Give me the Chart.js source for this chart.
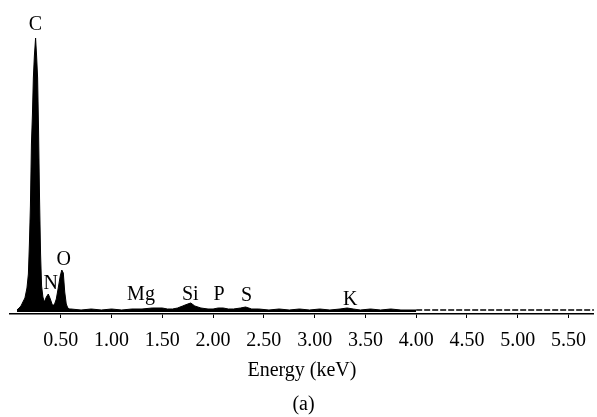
<!DOCTYPE html>
<html>
<head>
<meta charset="utf-8">
<style>
  html, body { margin: 0; padding: 0; background: #fff; }
  #wrap { width: 597px; height: 417px; }
</style>
<script src="https://cdn.jsdelivr.net/npm/chart.js@4.4.0/dist/chart.umd.min.js"></script>
</head>
<body>
<div id="wrap"><canvas id="chart"></canvas></div>
<script>
// EDS spectrum, energy in keV and counts (arbitrary units)
const energy = [
  0.069, 0.088, 0.108, 0.127, 0.147, 0.167, 0.181, 0.191, 0.201, 0.211,
  0.221, 0.230, 0.240, 0.252, 0.262, 0.272, 0.281, 0.291, 0.301, 0.311,
  0.324, 0.338, 0.358, 0.377, 0.397, 0.417, 0.436, 0.456, 0.475, 0.495,
  0.510, 0.525, 0.539, 0.554, 0.569, 0.588,
  0.60, 0.70, 0.80, 0.90, 1.00, 1.10, 1.20, 1.30, 1.40, 1.50,
  1.55, 1.60, 1.65, 1.70, 1.75, 1.78, 1.82, 1.88, 1.95, 2.00,
  2.05, 2.10, 2.15, 2.20, 2.27, 2.32, 2.38, 2.45, 2.55, 2.65,
  2.75, 2.85, 2.95, 3.05, 3.15, 3.25, 3.32, 3.38, 3.45, 3.55,
  3.65, 3.75, 3.85, 4.00
];
const counts = [
  4, 6, 8, 12, 16, 26, 40, 70, 108, 170,
  200, 236, 258, 276, 258, 236, 185, 115, 60, 28,
  17, 12, 17, 20, 15, 9, 9, 15, 26, 38,
  44, 41, 22, 10, 6, 5,
  5, 4, 5, 4, 5, 4, 5, 5, 6, 6,
  5, 5, 6, 8, 10, 11, 8, 6, 5, 5,
  6, 6, 5, 5, 6, 7, 5, 5, 4, 5,
  4, 5, 4, 5, 4, 5, 6, 5, 4, 5,
  4, 5, 4, 4
];

// noisy tail drawn as a broken line
const tailEnergy = [4.00, 4.50, 5.00, 5.50, 5.75];
const tailCounts = [4, 4, 4, 4, 4];

// element labels, anchored at (keV, counts)
const peakNames = ['C', 'N', 'O', 'Mg', 'Si', 'P', 'S', 'K'];
const peakLabelE = [0.25, 0.40, 0.53, 1.29, 1.775, 2.06, 2.33, 3.35];
const peakLabelV = [284, 25, 49, 14, 14, 14, 13, 9];

const tickValues = [0.5, 1.0, 1.5, 2.0, 2.5, 3.0, 3.5, 4.0, 4.5, 5.0, 5.5];
const tickLabels = ['0.50', '1.00', '1.50', '2.00', '2.50', '3.00', '3.50', '4.00', '4.50', '5.00', '5.50'];

const serif = '"Liberation Serif", "Times New Roman", serif';

const peakLabels = {
  id: 'peakLabels',
  afterDatasetsDraw(chart) {
    const ctx = chart.ctx;
    const xs = chart.scales.x, ys = chart.scales.y;
    ctx.save();
    ctx.fillStyle = '#000';
    ctx.font = '20px ' + serif;
    ctx.textAlign = 'center';
    ctx.textBaseline = 'alphabetic';
    peakNames.forEach((name, i) => {
      ctx.fillText(name, xs.getPixelForValue(peakLabelE[i]), ys.getPixelForValue(peakLabelV[i]));
    });
    ctx.restore();
  }
};

new Chart(document.getElementById('chart'), {
  type: 'line',
  data: {
    datasets: [
      {
        data: energy.map((e, i) => ({ x: e, y: counts[i] })),
        borderColor: '#000',
        backgroundColor: '#000',
        borderWidth: 1,
        pointRadius: 0,
        tension: 0,
        fill: { value: 2 }
      },
      {
        data: tailEnergy.map((e, i) => ({ x: e, y: tailCounts[i] })),
        borderColor: '#000',
        borderWidth: 1.5,
        borderDash: [6, 2],
        pointRadius: 0,
        fill: false
      }
    ]
  },
  options: {
    responsive: true,
    maintainAspectRatio: false,
    animation: false,
    layout: { padding: { left: 10, right: 0, top: 14, bottom: 0 } },
    plugins: {
      legend: { display: false },
      tooltip: { enabled: false },
      title: {
        display: true,
        text: '(a)',
        position: 'bottom',
        color: '#000',
        font: { family: serif, size: 20, weight: 'normal' },
        padding: { top: 10, bottom: 0 }
      }
    },
    scales: {
      x: {
        type: 'linear',
        min: 0,
        max: 5.75,
        afterBuildTicks: scale => { scale.ticks = tickValues.map(v => ({ value: v })); },
        afterFit: scale => { scale.height = 69; },
        ticks: {
          color: '#000',
          font: { family: serif, size: 20 },
          padding: 11,
          maxRotation: 0,
          autoSkip: false,
          callback: (v, i) => tickLabels[i]
        },
        grid: { drawOnChartArea: false, drawTicks: true, tickLength: 4, tickColor: '#000', tickWidth: 1 },
        border: { display: true, color: '#000', width: 1.5 },
        title: {
          display: true,
          text: 'Energy (keV)',
          color: '#000',
          font: { family: serif, size: 20 },
          padding: { top: 0, bottom: 0 }
        }
      },
      y: {
        display: false,
        min: 0,
        max: 300
      }
    }
  },
  plugins: [peakLabels]
});
</script>
</body>
</html>
